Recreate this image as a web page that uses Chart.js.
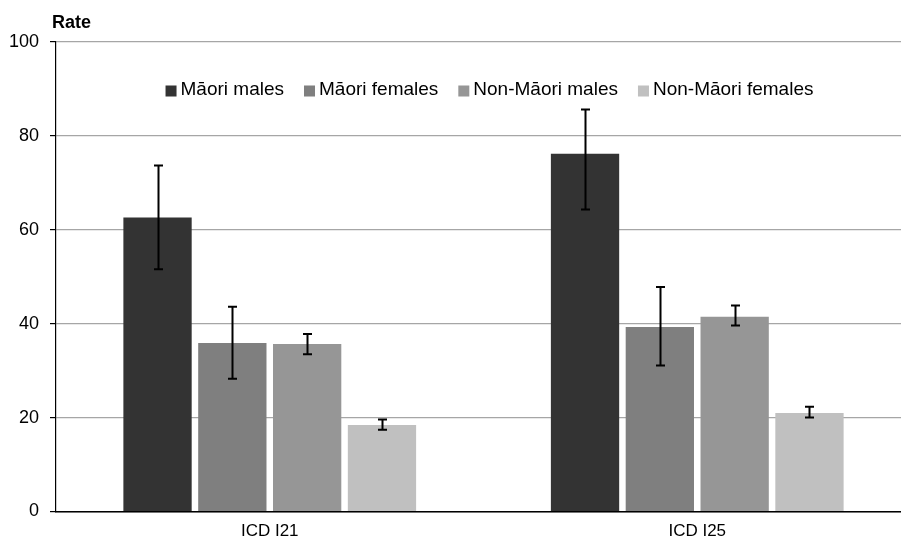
<!DOCTYPE html>
<html>
<head>
<meta charset="utf-8">
<script src="https://cdn.jsdelivr.net/npm/chart.js@4.4.1/dist/chart.umd.min.js"></script>
<style>
  html, body { margin: 0; padding: 0; background: #fff; overflow: hidden; }
  #wrap { width: 911px; height: 543px; position: relative; }
</style>
</head>
<body>
<div id="wrap"><canvas id="c" width="911" height="543"></canvas></div>
<script>
const categories = ['ICD I21', 'ICD I25'];
const seriesNames = ['Māori males', 'Māori females', 'Non-Māori males', 'Non-Māori females'];
const maoriMales = [62.6, 76.2];
const maoriMalesLow = [51.6, 64.3];
const maoriMalesHigh = [73.7, 85.6];
const maoriFemales = [35.9, 39.3];
const maoriFemalesLow = [28.3, 31.1];
const maoriFemalesHigh = [43.6, 47.8];
const nonMaoriMales = [35.7, 41.5];
const nonMaoriMalesLow = [33.5, 39.6];
const nonMaoriMalesHigh = [37.8, 43.9];
const nonMaoriFemales = [18.4, 21.0];
const nonMaoriFemalesLow = [17.4, 20.0];
const nonMaoriFemalesHigh = [19.6, 22.3];
const yTicks = [0, 20, 40, 60, 80, 100];
const axisTitle = 'Rate';

const colors = ['#333333', '#7f7f7f', '#969696', '#c0c0c0'];
const values = [maoriMales, maoriFemales, nonMaoriMales, nonMaoriFemales];
const lows = [maoriMalesLow, maoriFemalesLow, nonMaoriMalesLow, nonMaoriFemalesLow];
const highs = [maoriMalesHigh, maoriFemalesHigh, nonMaoriMalesHigh, nonMaoriFemalesHigh];

const FONT = '"Liberation Sans", Arial, sans-serif';

const errorBars = {
  id: 'errorBars',
  afterDatasetsDraw(chart) {
    const ctx = chart.ctx;
    const y = chart.scales.y;
    ctx.save();
    ctx.strokeStyle = '#000';
    ctx.lineWidth = 2;
    chart.data.datasets.forEach((ds, i) => {
      const meta = chart.getDatasetMeta(i);
      meta.data.forEach((bar, j) => {
        const x = Math.round(bar.x) + 0.5;
        const yl = y.getPixelForValue(ds.errLow[j]);
        const yh = y.getPixelForValue(ds.errHigh[j]);
        ctx.beginPath();
        ctx.moveTo(x, yl); ctx.lineTo(x, yh);
        ctx.moveTo(x - 4.5, yl); ctx.lineTo(x + 4.5, yl);
        ctx.moveTo(x - 4.5, yh); ctx.lineTo(x + 4.5, yh);
        ctx.stroke();
      });
    });
    ctx.restore();
  }
};

const customLegend = {
  id: 'customLegend',
  afterDraw(chart) {
    const ctx = chart.ctx;
    const ca = chart.chartArea;
    ctx.save();
    ctx.font = '19px ' + FONT;
    ctx.textBaseline = 'middle';
    const box = 11, gapText = 4, gapItem = 20;
    const items = chart.data.datasets.map(d => ({ label: d.label, color: d.backgroundColor, w: ctx.measureText(d.label).width }));
    let total = items.reduce((s, it) => s + box + gapText + it.w, 0) + gapItem * (items.length - 1);
    let x = (ca.left + ca.right) / 2 + 6 - total / 2;
    const yc = 90;
    items.forEach(it => {
      ctx.fillStyle = it.color;
      ctx.fillRect(x, yc - box / 2 + 1, box, box);
      x += box + gapText;
      ctx.fillStyle = '#000';
      ctx.fillText(it.label, x, yc);
      x += it.w + gapItem;
    });
    ctx.font = 'bold 18px ' + FONT;
    ctx.textBaseline = 'alphabetic';
    ctx.fillText(axisTitle, 52, 28);
    ctx.restore();
  }
};

new Chart(document.getElementById('c'), {
  type: 'bar',
  data: {
    labels: categories,
    datasets: seriesNames.map((name, i) => ({
      label: name,
      data: values[i],
      errLow: lows[i],
      errHigh: highs[i],
      backgroundColor: colors[i],
      borderWidth: 0,
      categoryPercentage: 0.70,
      barPercentage: 0.913
    }))
  },
  options: {
    responsive: false,
    animation: false,
    devicePixelRatio: 1,
    layout: { padding: { top: 42, right: 0, left: 0, bottom: 0 } },
    plugins: { legend: { display: false }, tooltip: { enabled: false }, title: { display: false } },
    scales: {
      x: {
        grid: { display: false, drawTicks: false },
        border: { color: '#000', width: 1.5 },
        ticks: { color: '#000', font: { family: FONT, size: 17 }, padding: 10 },
        afterFit(s) { s.height = 31.5; }
      },
      y: {
        min: 0, max: 100,
        afterBuildTicks(s) { s.ticks = yTicks.map(v => ({ value: v })); },
        grid: { color: '#a6a6a6', lineWidth: 1.2, tickLength: 6, tickColor: '#000' },
        border: { color: '#000', width: 1.2 },
        ticks: { color: '#000', font: { family: FONT, size: 18 }, padding: 11 },
        afterFit(s) { s.width = 56; }
      }
    }
  },
  plugins: [errorBars, customLegend]
});
</script>
</body>
</html>
